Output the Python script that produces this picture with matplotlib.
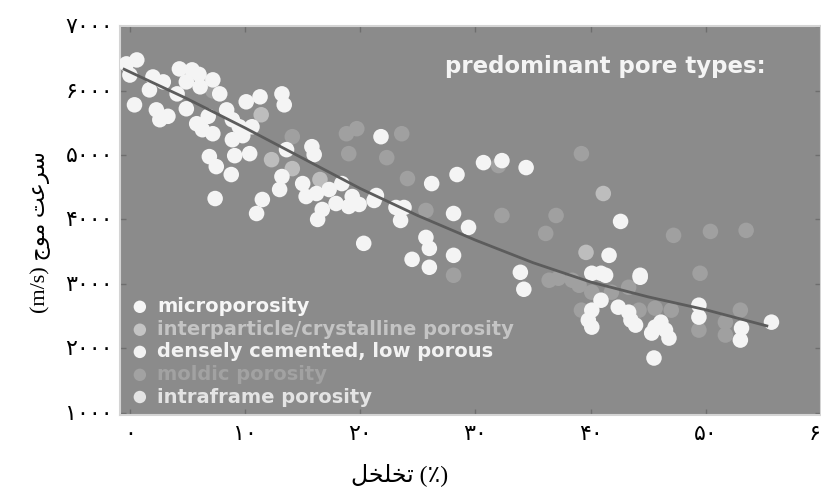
import numpy as np
import matplotlib.pyplot as plt

# porosity (%) and wave velocity (m/s)
white_x = [-0.3, 0.6, 0.0, 2.0, 2.9, 1.7, 0.4, 2.3, 2.6, 4.1, 4.3, 5.4, 4.9, 6.1, 7.2, 7.8, 4.9, 5.8, 6.3, 7.2,
           8.4, 8.9, 9.5, 10.1, 11.3, 13.2, 13.4, 8.9, 10.6, 10.4, 6.9, 7.5, 8.8, 9.1, 7.4, 11.0, 11.5, 13.6,
           15.8, 16.0, 13.2, 13.0, 15.0, 15.3, 16.2, 17.3, 17.9, 16.7, 16.3, 19.0, 19.9, 19.3, 18.4, 21.8,
           30.7, 32.3, 34.4, 26.2, 28.4, 21.4, 21.2, 23.1, 23.8, 23.5, 28.1, 29.4, 20.3, 25.7, 26.0, 24.5,
           26.0, 28.1, 33.9, 42.6, 41.6, 40.9, 40.1, 44.3, 34.2, 41.3, 44.3, 40.9, 40.1, 39.8, 40.1, 42.4,
           43.3, 43.5, 43.9, 45.6, 46.5, 46.8, 45.3, 46.1, 45.5, 49.4, 49.4, 53.1, 53.0, 55.7, 3.3, 6.8, 9.8,
           6.0]
white_y = [6413, 6474, 6240, 6210, 6134, 6010, 5778, 5700, 5547, 5948, 6335, 6320, 6134, 6057, 6165, 5948, 5717,
           5485, 5392, 5330, 5700, 5547, 5438, 5825, 5902, 5948, 5778, 5237, 5438, 5021, 4975, 4820, 4697, 4990,
           4325, 4093, 4310, 5083, 5129, 5006, 4666, 4465, 4557, 4356, 4403, 4465, 4248, 4155, 4001, 4202, 4233,
           4356, 4557, 5284, 4882, 4913, 4805, 4557, 4697, 4372, 4295, 4186, 4186, 3985, 4093, 3877, 3630, 3722,
           3552, 3382, 3259, 3444, 3181, 3970, 3444, 3166, 3166, 3135, 2918, 3135, 3104, 2748, 2594, 2439, 2331,
           2640, 2563, 2439, 2362, 2331, 2285, 2161, 2239, 2408, 1852, 2671, 2486, 2316, 2130, 2408, 5600, 5600,
           5300, 6250]

inter_x = [11.4, 12.3, 16.5, 14.1, 41.1, 39.6]
inter_y = [5624, 4928, 4620, 4789, 4403, 3490]

moldic_x = [7.2, 14.1, 18.8, 19.7, 19.0, 23.6, 22.3, 32.0, 24.1, 25.7, 32.3, 37.0, 36.1, 28.1, 39.2, 47.2, 50.4,
            53.5, 49.5, 36.4, 37.2, 38.4, 39.0, 40.1, 41.8, 43.3, 39.2, 44.2, 45.6, 47.0, 49.4, 51.7, 51.7, 53.0]
moldic_y = [5995, 5284, 5330, 5408, 5021, 5330, 4959, 4836, 4635, 4140, 4062, 4062, 3784, 3135, 5021, 3754, 3815,
            3831, 3166, 3058, 3089, 3058, 2980, 2872, 2872, 2949, 2594, 2594, 2625, 2594, 2285, 2408, 2208, 2594]

trend_x = [-0.5, 5, 10, 15, 20, 25, 30, 35, 40, 45, 50, 55.3]
trend_y = [6330, 5870, 5420, 4950, 4480, 4060, 3680, 3330, 3030, 2800, 2600, 2350]

xticks = [0, 10, 20, 30, 40, 50, 60]
yticks = [1000, 2000, 3000, 4000, 5000, 6000, 7000]

legend_labels = ['microporosity', 'interparticle/crystalline porosity', 'densely cemented, low porous',
                 'moldic porosity', 'intraframe porosity']
legend_colors = ['#f6f6f6', '#c4c4c4', '#f2f2f2', '#a2a2a2', '#e4e4e4']

fa_digits = str.maketrans('0123456789', '\u06f0\u06f1\u06f2\u06f3\u06f4\u06f5\u06f6\u06f7\u06f8\u06f9')
def fa(n):
    return str(n).translate(fa_digits)

# Persian words written in visual order with presentation forms (no shaping in matplotlib)
ylab = '(m/s) ' + '\ufe9d\ufeee\ufee3' + ' ' + '\ufe96\ufecb\ufeae\ufeb3'
xlab = '\ufede\ufea8\ufee0\ufea8\ufe97' + ' (\u066a)'

fam = ['Liberation Serif', 'DejaVu Sans']

fig = plt.figure(figsize=(8.21, 4.91), dpi=100)
ax = fig.add_axes([0.146, 0.155, 0.854, 0.792])
ax.set_facecolor('#8b8b8b')

ax.scatter(moldic_x, moldic_y, s=125, color='#a0a0a0', edgecolors='none', zorder=2)
ax.scatter(inter_x, inter_y, s=125, color='#bdbdbd', edgecolors='none', zorder=2)
ax.scatter(white_x, white_y, s=125, color='#f4f4f4', edgecolors='none', zorder=3)
ax.plot(trend_x, trend_y, color='#5c5c5c', lw=2, zorder=4)

ax.set_xlim(-0.87, 59.8)
ax.set_ylim(970, 7000)
ax.set_xticks(xticks)
ax.set_yticks(yticks)
ax.set_xticklabels([fa(v) for v in xticks], family=fam, fontsize=16)
ax.set_yticklabels([fa(v) for v in yticks], family=fam, fontsize=16)
ax.tick_params(axis='both', direction='in', length=4, width=1, color='#6e6e6e', top=True, right=True)
ax.tick_params(axis='x', pad=8)
ax.tick_params(axis='y', pad=5)
for sp in ax.spines.values():
    sp.set_color('#d4d4d4')
    sp.set_linewidth(1.5)

ax.text(0.692, 0.897, 'predominant pore types:', transform=ax.transAxes, ha='center', va='center',
        color='#f4f4f4', fontsize=16.5, fontweight='bold')
leg_y = [0.278, 0.219, 0.162, 0.103, 0.046]
for lab, col, yy in zip(legend_labels, legend_colors, leg_y):
    ax.scatter([0.0285], [yy], s=80, color=col, edgecolors='none', transform=ax.transAxes, zorder=5)
    ax.text(0.053, yy, lab, transform=ax.transAxes, ha='left', va='center', color=col,
            fontsize=14, fontweight='bold')

fig.text(0.049, 0.527, ylab, rotation=90, ha='center', va='center', fontsize=16, family=fam)
fig.text(0.487, 0.033, xlab, ha='center', va='center', fontsize=17, family=fam)

fig.savefig('out.png', dpi=100)
